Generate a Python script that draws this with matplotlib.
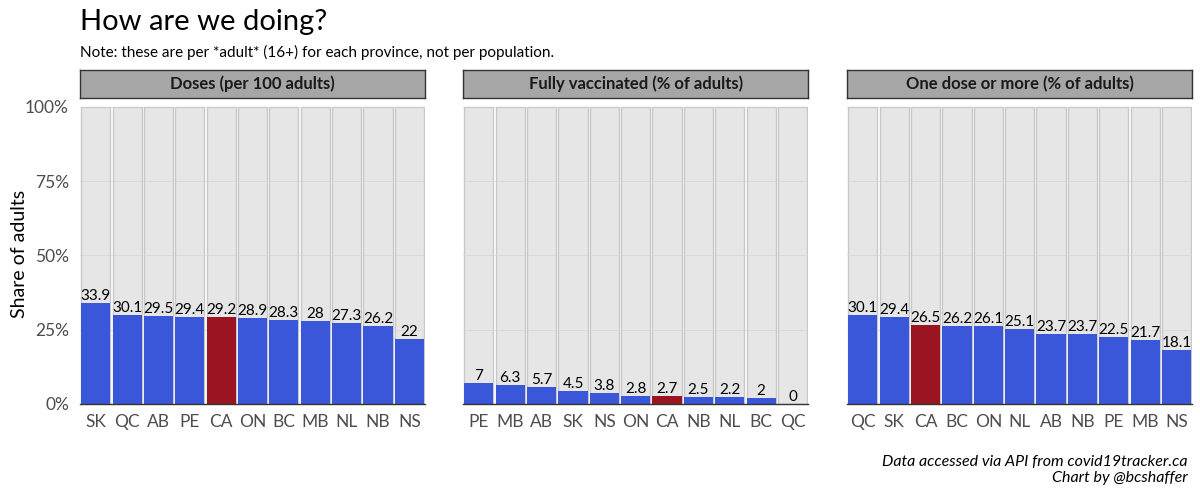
import matplotlib
matplotlib.use("Agg")
import matplotlib.pyplot as plt

plt.rcParams['font.family'] = ['Lato', 'DejaVu Sans']

# data
doses_prov = ["SK", "QC", "AB", "PE", "CA", "ON", "BC", "MB", "NL", "NB", "NS"]
doses_vals = [33.9, 30.1, 29.5, 29.4, 29.2, 28.9, 28.3, 28, 27.3, 26.2, 22]
full_prov = ["PE", "MB", "AB", "SK", "NS", "ON", "CA", "NB", "NL", "BC", "QC"]
full_vals = [7, 6.3, 5.7, 4.5, 3.8, 2.8, 2.7, 2.5, 2.2, 2, 0]
one_prov = ["QC", "SK", "CA", "BC", "ON", "NL", "AB", "NB", "PE", "MB", "NS"]
one_vals = [30.1, 29.4, 26.5, 26.2, 26.1, 25.1, 23.7, 23.7, 22.5, 21.7, 18.1]

panels = [
    ("Doses (per 100 adults)", doses_prov, doses_vals),
    ("Fully vaccinated (% of adults)", full_prov, full_vals),
    ("One dose or more (% of adults)", one_prov, one_vals),
]

blue = "#3B57D9"
red = "#9B1422"
lefts = [0.0667, 0.386, 0.706]
width = 0.2875

fig = plt.figure(figsize=(12, 5), dpi=100)

for i, (title, prov, vals) in enumerate(panels):
    ax = fig.add_axes([lefts[i], 0.192, width, 0.6])
    x = range(len(prov))
    ax.bar(x, [100] * len(prov), width=0.93, color="#E6E6E6",
           edgecolor="#C8C8C8", linewidth=1.0, zorder=1)
    cols = [red if p == "CA" else blue for p in prov]
    ax.bar(x, vals, width=0.93, color=cols, edgecolor="none", zorder=2)
    for xi, v in zip(x, vals):
        ax.text(xi, v, f"{v:g}", ha="center", va="bottom", fontsize=11,
                color="black", zorder=4)
    ax.set_xlim(-0.5, len(prov) - 0.5)
    ax.set_ylim(0, 101)
    ax.set_yticks([0, 25, 50, 75, 100])
    for yv in [25, 50, 75, 100]:
        ax.axhline(yv, color="#D0D0D0", linewidth=0.6, zorder=1.5, alpha=0.6)
    ax.set_xticks(list(x))
    ax.set_xticklabels(prov, fontsize=12.5, color="#4D4D4D")
    if i == 0:
        ax.set_yticklabels(["0%", "25%", "50%", "75%", "100%"],
                           fontsize=12.5, color="#4D4D4D")
        ax.set_ylabel("Share of adults", fontsize=14, labelpad=-2)
    else:
        ax.set_yticklabels([])
    ax.tick_params(axis="x", length=0, pad=7)
    ax.tick_params(axis="y", length=0, pad=8)
    for s in ["top", "right", "left"]:
        ax.spines[s].set_visible(False)
    ax.spines["bottom"].set_color("#333333")
    ax.spines["bottom"].set_linewidth(1.0)
    ax.spines["bottom"].set_zorder(5)

    sax = fig.add_axes([lefts[i], 0.804, width, 0.056])
    sax.set_facecolor("#A6A6A6")
    sax.set_xticks([])
    sax.set_yticks([])
    for s in sax.spines.values():
        s.set_color("#333333")
        s.set_linewidth(1.0)
    sax.text(0.5, 0.5, title, ha="center", va="center", fontsize=12,
             fontweight="bold", color="#1A1A1A", transform=sax.transAxes)

fig.text(0.0667, 0.94, "How are we doing?", fontsize=21, ha="left", va="baseline")
fig.text(0.0667, 0.887, "Note: these are per *adult* (16+) for each province, not per population.",
         fontsize=11, ha="left", va="baseline")
fig.text(0.99, 0.03, "Data accessed via API from covid19tracker.ca\nChart by @bcshaffer",
         fontsize=11.5, style="italic", ha="right", va="bottom", linespacing=1.15)

fig.savefig("out.png", dpi=100)
